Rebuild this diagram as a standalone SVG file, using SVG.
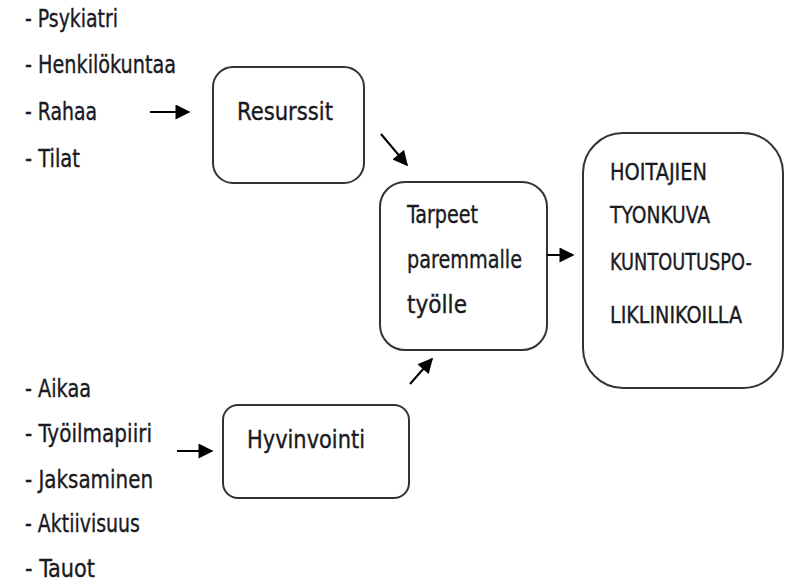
<svg xmlns="http://www.w3.org/2000/svg" width="787" height="582" viewBox="0 0 787 582">
<style>
text{font-family:"DejaVu Sans Condensed","Liberation Sans Narrow","Liberation Sans",sans-serif;font-size:25px;fill:#1a1a22;stroke:#1a1a22;stroke-width:0.35}
text.cap{font-size:23px}
.box{fill:#fff;stroke:#333;stroke-width:2}
.con{stroke:#000;stroke-width:2;fill:none;marker-end:url(#ah)}
</style>
<defs>
<marker id="ah" viewBox="0 0 10 10" refX="9" refY="5" markerWidth="8" markerHeight="7.5" markerUnits="strokeWidth" orient="auto">
<path d="M0,0L10,5L0,10z" fill="#000"/>
</marker>
</defs>
<rect width="787" height="582" fill="#fff"/>
<g id="list-resources">
<text x="25" y="27" textLength="93" lengthAdjust="spacingAndGlyphs">- Psykiatri</text>
<text x="25" y="73" textLength="151" lengthAdjust="spacingAndGlyphs">- Henkilökuntaa</text>
<text x="25" y="120" textLength="72" lengthAdjust="spacingAndGlyphs">- Rahaa</text>
<text x="25" y="167" textLength="55" lengthAdjust="spacingAndGlyphs">- Tilat</text>
</g>
<g id="list-wellbeing">
<text x="25" y="397" textLength="66" lengthAdjust="spacingAndGlyphs">- Aikaa</text>
<text x="25" y="442" textLength="127" lengthAdjust="spacingAndGlyphs">- Työilmapiiri</text>
<text x="25" y="488" textLength="128" lengthAdjust="spacingAndGlyphs">- Jaksaminen</text>
<text x="25" y="532" textLength="115" lengthAdjust="spacingAndGlyphs">- Aktiivisuus</text>
<text x="25" y="577" textLength="70" lengthAdjust="spacingAndGlyphs">- Tauot</text>
</g>
<g id="resurssit">
<rect class="box" x="213" y="67" width="151" height="116" rx="20"/>
<text x="237" y="120" textLength="96" lengthAdjust="spacingAndGlyphs">Resurssit</text>
</g>
<g id="hyvinvointi">
<rect class="box" x="223" y="405" width="186" height="93" rx="15"/>
<text x="247" y="448" textLength="118" lengthAdjust="spacingAndGlyphs">Hyvinvointi</text>
</g>
<g id="tarpeet">
<rect class="box" x="380" y="182" width="167" height="168" rx="25"/>
<text x="407" y="223" textLength="71" lengthAdjust="spacingAndGlyphs">Tarpeet</text>
<text x="407" y="268" textLength="115" lengthAdjust="spacingAndGlyphs">paremmalle</text>
<text x="407" y="313" textLength="60" lengthAdjust="spacingAndGlyphs">työlle</text>
</g>
<g id="hoitajien">
<rect class="box" x="583" y="133" width="200" height="255" rx="40"/>
<text class="cap" x="610" y="180" textLength="97" lengthAdjust="spacingAndGlyphs">HOITAJIEN</text>
<text class="cap" x="610" y="223" textLength="100" lengthAdjust="spacingAndGlyphs">TYONKUVA</text>
<text class="cap" x="610" y="270" textLength="142" lengthAdjust="spacingAndGlyphs">KUNTOUTUSPO-</text>
<text class="cap" x="610" y="323" textLength="132" lengthAdjust="spacingAndGlyphs">LIKLINIKOILLA</text>
</g>
<g id="connectors">
<line class="con" x1="150" y1="112" x2="189" y2="112"/>
<line class="con" x1="381" y1="134" x2="407" y2="165"/>
<line class="con" x1="177" y1="451" x2="212" y2="451"/>
<line class="con" x1="410" y1="384" x2="432" y2="359"/>
<line class="con" x1="547" y1="255" x2="573" y2="255"/>
</g>
</svg>
